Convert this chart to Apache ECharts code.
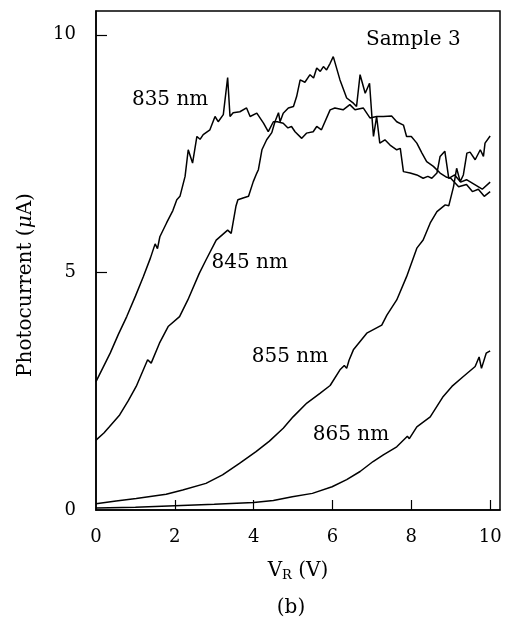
<!DOCTYPE html>
<html>
<head>
<meta charset="utf-8">
<script src="https://cdn.jsdelivr.net/npm/echarts@6.0.0/dist/echarts.min.js"></script>
<style>
html,body{margin:0;padding:0;background:#fff;}
#main{width:510px;height:622px;}
</style>
</head>
<body>
<div id="main"></div>
<script>
// photocurrent (uA) vs reverse bias VR (V)
var s835 = [[0,2.7],[0.18,3.0],[0.36,3.3],[0.57,3.7],[0.78,4.07],[1.0,4.5],[1.2,4.91],[1.38,5.3],[1.5,5.6],[1.56,5.5],[1.62,5.75],[1.79,6.04],[1.95,6.3],[2.05,6.53],[2.13,6.6],[2.26,7.02],[2.34,7.58],[2.45,7.3],[2.56,7.86],[2.64,7.8],[2.72,7.9],[2.89,8.0],[3.02,8.28],[3.1,8.17],[3.23,8.32],[3.34,9.1],[3.4,8.28],[3.48,8.36],[3.65,8.38],[3.82,8.46],[3.91,8.28],[4.08,8.35],[4.25,8.14],[4.37,7.96],[4.5,8.17],[4.6,8.17],[4.75,8.14],[4.87,8.04],[4.96,8.07],[5.05,7.96],[5.22,7.82],[5.34,7.93],[5.51,7.96],[5.6,8.07],[5.72,8.0],[5.94,8.42],[6.06,8.46],[6.27,8.42],[6.44,8.53],[6.57,8.42],[6.78,8.46],[6.95,8.25],[7.12,8.28],[7.29,8.28],[7.5,8.29],[7.63,8.17],[7.8,8.1],[7.88,7.86],[8.0,7.86],[8.14,7.72],[8.27,7.51],[8.39,7.33],[8.56,7.23],[8.73,7.09],[8.9,7.0],[9.0,6.98],[9.2,6.8],[9.4,6.85],[9.55,6.7],[9.7,6.75],[9.85,6.6],[10.0,6.7]];
var s845 = [[0,1.47],[0.2,1.62],[0.34,1.75],[0.6,2.0],[0.82,2.3],[1.02,2.6],[1.31,3.16],[1.4,3.09],[1.61,3.51],[1.83,3.86],[2.12,4.07],[2.33,4.42],[2.62,4.98],[2.79,5.26],[3.05,5.68],[3.34,5.89],[3.43,5.82],[3.55,6.39],[3.6,6.53],[3.75,6.57],[3.87,6.6],[3.99,6.91],[4.08,7.09],[4.12,7.16],[4.21,7.58],[4.33,7.79],[4.46,7.94],[4.54,8.17],[4.63,8.36],[4.67,8.17],[4.75,8.35],[4.88,8.46],[5.01,8.49],[5.09,8.7],[5.18,9.05],[5.3,9.0],[5.43,9.16],[5.52,9.09],[5.6,9.3],[5.69,9.23],[5.77,9.33],[5.85,9.26],[5.94,9.4],[6.02,9.54],[6.19,9.05],[6.36,8.67],[6.53,8.56],[6.61,8.49],[6.7,9.16],[6.83,8.77],[6.94,8.98],[7.0,8.28],[7.04,7.86],[7.12,8.28],[7.2,7.72],[7.33,7.79],[7.46,7.68],[7.63,7.58],[7.72,7.61],[7.8,7.12],[7.97,7.09],[8.14,7.05],[8.3,6.98],[8.42,7.02],[8.52,6.98],[8.65,7.09],[8.73,7.44],[8.85,7.55],[8.95,6.98],[9.1,7.05],[9.25,6.9],[9.4,6.95],[9.6,6.85],[9.8,6.75],[10.0,6.9]];
var s855 = [[0,0.13],[0.51,0.19],[1.02,0.24],[1.78,0.33],[2.2,0.42],[2.79,0.56],[3.21,0.74],[3.64,0.98],[4.06,1.23],[4.4,1.45],[4.75,1.72],[5.0,1.96],[5.35,2.25],[5.69,2.46],[5.94,2.62],[6.19,2.95],[6.3,3.04],[6.36,2.98],[6.42,3.15],[6.53,3.37],[6.87,3.72],[7.25,3.89],[7.38,4.1],[7.63,4.42],[7.88,4.91],[8.14,5.51],[8.3,5.68],[8.48,6.04],[8.65,6.28],[8.86,6.42],[8.95,6.4],[9.07,6.8],[9.15,7.19],[9.24,6.91],[9.32,7.05],[9.41,7.51],[9.49,7.53],[9.62,7.37],[9.75,7.58],[9.83,7.44],[9.87,7.72],[10.0,7.87]];
var s865 = [[0,0.04],[1,0.06],[2,0.09],[3,0.12],[4,0.16],[4.5,0.2],[4.98,0.28],[5.49,0.35],[5.99,0.49],[6.36,0.64],[6.7,0.81],[7.03,1.02],[7.29,1.16],[7.63,1.33],[7.9,1.55],[7.95,1.5],[8.14,1.75],[8.48,1.96],[8.81,2.39],[9.03,2.6],[9.32,2.81],[9.62,3.02],[9.72,3.22],[9.78,2.98],[9.9,3.3],[10.0,3.35]];

var xTicks = [0, 2, 4, 6, 8, 10];
var yTicks = [0, 5, 10];

// curve labels, in data coords
var notes = [
  {text: '835 nm', at: [1.88, 8.63]},
  {text: '845 nm', at: [3.9, 5.2]},
  {text: '855 nm', at: [4.92, 3.22]},
  {text: '865 nm', at: [6.47, 1.58]},
  {text: 'Sample 3', at: [8.05, 9.89]}
];

var serif = 'DejaVu Serif';
var chart = echarts.init(document.getElementById('main'));

function curve(name, data) {
  return {
    name: name,
    type: 'line',
    data: data,
    showSymbol: false,
    animation: false,
    lineStyle: {color: '#000', width: 1.5}
  };
}

var option = {
  backgroundColor: '#fff',
  animation: false,
  grid: {left: 96, right: 10, top: 11, bottom: 112, show: true, borderColor: '#000', borderWidth: 1.5},
  xAxis: {
    type: 'value', min: 0, max: 10.25,
    name: 'V{sub|R} (V)', nameLocation: 'middle', nameGap: 50,
    nameTextStyle: {fontFamily: serif, fontSize: 20, color: '#000',
      rich: {sub: {fontFamily: serif, fontSize: 13, color: '#000', verticalAlign: 'bottom', padding: [9, 0, 0, 0]}}},
    axisLine: {lineStyle: {color: '#000', width: 1.5}},
    axisTick: {inside: true, length: 10, customValues: xTicks.slice(1), lineStyle: {color: '#000', width: 1.2}},
    axisLabel: {customValues: xTicks, margin: 18, fontFamily: serif, fontSize: 18, color: '#000'},
    splitLine: {show: false}
  },
  yAxis: {
    type: 'value', min: 0, max: 10.5,
    axisLine: {lineStyle: {color: '#000', width: 1.5}},
    axisTick: {inside: true, length: 11, customValues: yTicks.slice(1), lineStyle: {color: '#000', width: 1.2}},
    axisLabel: {customValues: yTicks, margin: 20, fontFamily: serif, fontSize: 18, color: '#000'},
    splitLine: {show: false}
  },
  series: [curve('835', s835), curve('845', s845), curve('855', s855), curve('865', s865)]
};
chart.setOption(option);

var g = notes.map(function (n) {
  var p = chart.convertToPixel({gridIndex: 0}, n.at);
  return {type: 'text', x: p[0], y: p[1], style: {text: n.text, fontFamily: serif, fontSize: 20, fill: '#000', align: 'center', verticalAlign: 'middle'}};
});
// y axis title, rotated
g.push({type: 'text', x: 26, y: 285, rotation: Math.PI / 2,
  style: {text: 'Photocurrent ({mu|\u03bc}A)', fontFamily: serif, fontSize: 20, fill: '#000', align: 'center', verticalAlign: 'middle',
    rich: {mu: {fontFamily: serif, fontSize: 20, fontStyle: 'italic', fill: '#000'}}}});
g.push({type: 'text', x: 291, y: 608, style: {text: '(b)', fontFamily: serif, fontSize: 20, fill: '#000', align: 'center', verticalAlign: 'middle'}});
chart.setOption({graphic: g});
</script>
</body>
</html>
